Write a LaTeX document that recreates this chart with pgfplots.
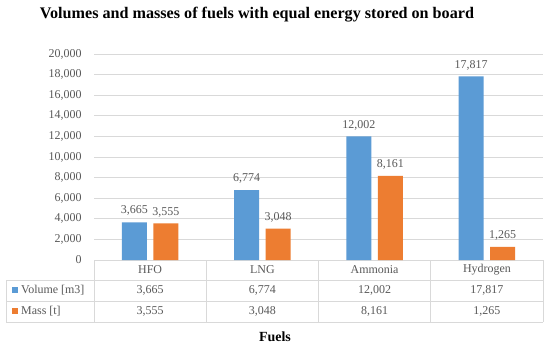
\documentclass[border=0pt]{standalone}
\usepackage{pgfplots}
\pgfplotsset{compat=1.18}
\usepackage{fontspec}
\setmainfont{Liberation Serif}
\definecolor{cblue}{HTML}{5B9BD5}
\definecolor{corange}{HTML}{ED7D31}
\definecolor{tgray}{HTML}{595959}
\definecolor{ggray}{HTML}{D9D9D9}
\newcommand{\lbl}{\fontsize{12}{14}\selectfont}
\begin{document}
\begin{tikzpicture}[x=1bp,y=1bp]
\useasboundingbox (0,0) rectangle (550,348);
\fill[white] (0,0) rectangle (550,348);
\begin{axis}[
  at={(94bp,88bp)}, anchor=south west,
  scale only axis, width=449bp, height=206bp,
  ymin=0, ymax=20000, xmin=-0.5, xmax=3.5,
  ytick={0,2000,...,20000},
  scaled y ticks=false,
  /pgf/number format/assume math mode=true,
  /pgf/number format/1000 sep={,},
  ymajorgrids, grid style={ggray, line width=0.8bp},
  axis line style={draw=none},
  xtick=\empty,
  major tick length=0pt,
  yticklabel style={font=\lbl, text=tgray, xshift=-9bp},
  ybar=6.5bp, bar width=25bp,
  nodes near coords,
  every node near coord/.append style={font=\lbl, text=tgray, yshift=3bp},
  clip=false
]
\addplot[fill=cblue, draw=none] coordinates {(0,3665) (1,6774) (2,12002) (3,17817)};
\addplot[fill=corange, draw=none] coordinates {(0,3555) (1,3048) (2,8161) (3,1265)};
\end{axis}
% table grid
\begin{scope}[draw=ggray, line width=0.8bp]
\draw (6,68) -- (543,68);
\draw (6,47) -- (543,47);
\draw (6,26) -- (543,26);
\draw (6,26) -- (6,68);
\foreach \x in {94,206.25,318.5,430.75,543} \draw (\x,26) -- (\x,88);
\end{scope}
\begin{scope}[font=\lbl, text=tgray]
\node at (150.1,78) {HFO};
\node at (262.4,78) {LNG};
\node at (374.6,78) {Ammonia};
\node at (486.9,78) {Hydrogen};
\node at (150.1,57.5) {3,665};
\node at (262.4,57.5) {6,774};
\node at (374.6,57.5) {12,002};
\node at (486.9,57.5) {17,817};
\node at (150.1,36.5) {3,555};
\node at (262.4,36.5) {3,048};
\node at (374.6,36.5) {8,161};
\node at (486.9,36.5) {1,265};
\fill[cblue] (11.5,55) rectangle (18,61.5);
\fill[corange] (11.5,34) rectangle (18,40.5);
\node[anchor=west, inner sep=0pt] at (21,57.5) {Volume [m3]};
\node[anchor=west, inner sep=0pt] at (21,36.5) {Mass [t]};
\end{scope}
\node[font=\fontsize{14}{16}\selectfont\bfseries] at (275,11) {Fuels};
\node[font=\fontsize{16.2}{18}\selectfont\bfseries] at (257,333) {Volumes and masses of fuels with equal energy stored on board};
\end{tikzpicture}
\end{document}
